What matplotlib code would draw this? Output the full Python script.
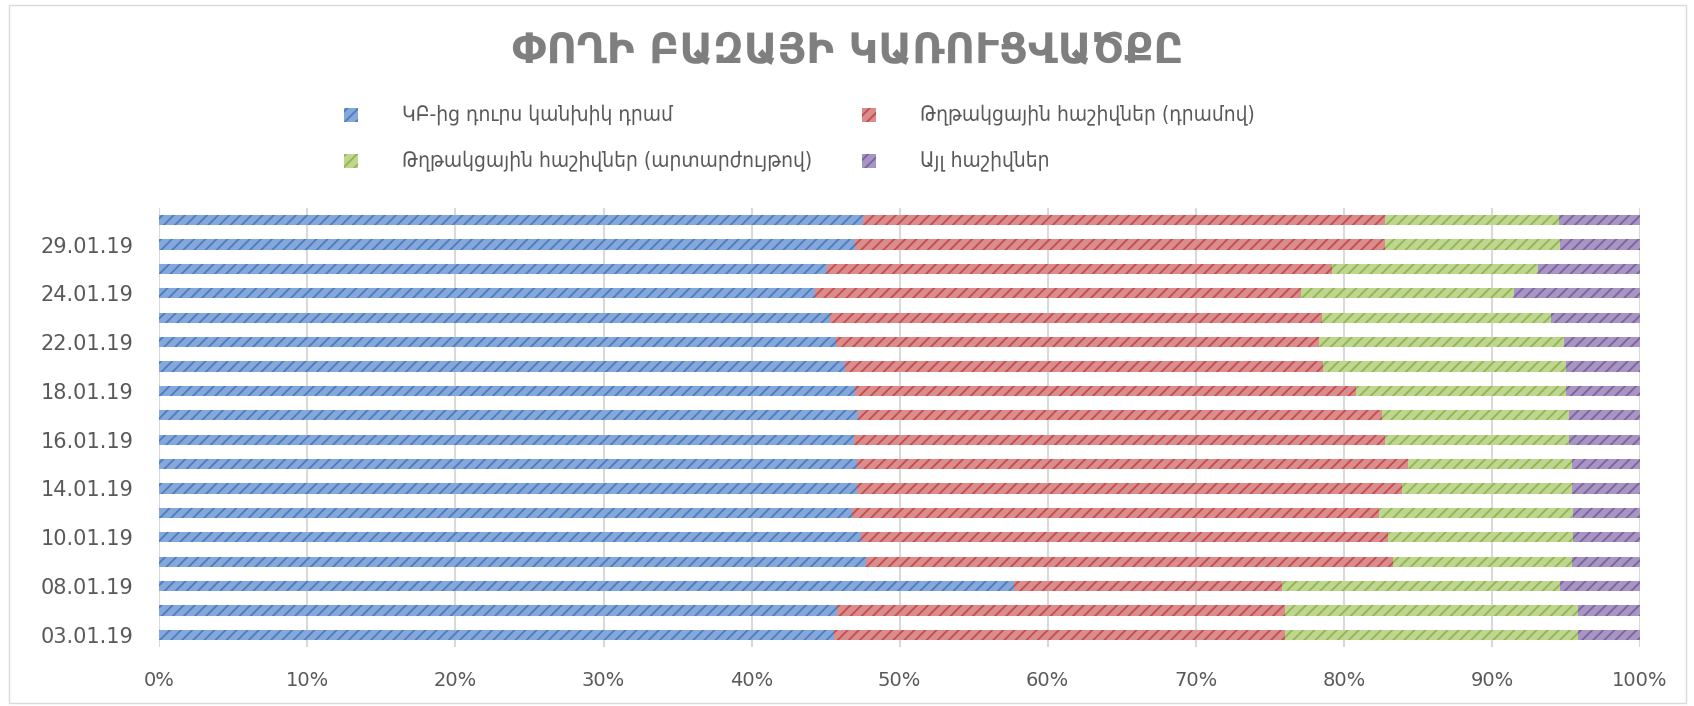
import numpy as np
import matplotlib.pyplot as plt
from matplotlib.patches import Rectangle

# categories, bottom to top
dates = ["03.01.19", "04.01.19", "08.01.19", "09.01.19", "10.01.19", "11.01.19",
         "14.01.19", "15.01.19", "16.01.19", "17.01.19", "18.01.19", "21.01.19",
         "22.01.19", "23.01.19", "24.01.19", "25.01.19", "29.01.19", "30.01.19"]

# shares, %
cash_outside = [45.6, 45.8, 57.7, 47.7, 47.4, 46.8, 47.1, 47.1, 46.9,
                47.2, 47.0, 46.3, 45.7, 45.3, 44.3, 45.1, 47.0, 47.5]
corr_amd = [30.4, 30.2, 18.1, 35.6, 35.6, 35.6, 36.8, 37.2, 35.9,
            35.4, 33.8, 32.3, 32.6, 33.2, 32.8, 34.1, 35.8, 35.3]
corr_fx = [19.8, 19.8, 18.8, 12.1, 12.5, 13.1, 11.5, 11.1, 12.4,
           12.6, 14.2, 16.4, 16.6, 15.5, 14.4, 13.9, 11.8, 11.7]
other = [4.2, 4.2, 5.4, 4.6, 4.5, 4.5, 4.6, 4.6, 4.8,
         4.8, 5.0, 5.0, 5.1, 6.0, 8.5, 6.9, 5.4, 5.5]

series_names = ["ԿԲ-ից դուրս կանխիկ դրամ",
                "Թղթակցային հաշիվներ (դրամով)",
                "Թղթակցային հաշիվներ (արտարժույթով)",
                "Այլ հաշիվներ"]
face_colors = ["#86a8d8", "#d98d8d", "#bed690", "#a795c2"]
hatch_colors = ["#4a7cc4", "#c84a4d", "#90b650", "#7c62a2"]

title = "ՓՈՂԻ ԲԱԶԱՅԻ ԿԱՌՈՒՑՎԱԾՔԸ"

W, H = 1694, 706
plt.rcParams['font.family'] = ['DejaVu Sans']
plt.rcParams['hatch.linewidth'] = 1.3

fig = plt.figure(figsize=(W / 100, H / 100), dpi=100)
ax = fig.add_axes([159.3 / W, 1 - 647 / H, (1640 - 159.3) / W, (647 - 208) / H])

data = np.array([cash_outside, corr_amd, corr_fx, other], dtype=float)
data = data / data.sum(axis=0) * 100  # 100% stacked
y = np.arange(len(dates))

left = np.zeros(len(dates))
for vals, fc, hc, name in zip(data, face_colors, hatch_colors, series_names):
    ax.barh(y, vals, left=left, height=0.42, color=fc, edgecolor=hc,
            hatch='///', linewidth=0, label=name, zorder=2)
    left += vals

ax.set_xlim(0, 100)
ax.set_ylim(-0.5, len(dates) - 0.5)
ax.set_xticks(np.arange(0, 101, 10))
ax.set_xticklabels([f"{v}%" for v in range(0, 101, 10)])
ax.set_yticks(y[::2])
ax.set_yticklabels(dates[::2])
ax.xaxis.grid(True, color='#d9d9d9', linewidth=1.5, zorder=0)
ax.set_axisbelow(True)
for s in ax.spines.values():
    s.set_visible(False)
ax.tick_params(axis='both', length=0, labelsize=14, labelcolor='#595959')
ax.tick_params(axis='y', pad=18.5, labelsize=15)
ax.tick_params(axis='x', pad=17)

# title
fig.text(848 / W, 1 - 51 / H, title, ha='center', va='center',
         fontsize=30, fontweight='bold', color='#7f7f7f')

# legend, laid out like the original (two rows, two columns)
legend_pos = [(351, 115), (869, 115), (351, 161), (869, 161)]
for (cx, cy), fc, hc, name in zip(legend_pos, face_colors, hatch_colors, series_names):
    fig.add_artist(Rectangle(((cx - 7) / W, 1 - (cy + 7) / H), 14 / W, 14 / H,
                             transform=fig.transFigure, facecolor=fc,
                             edgecolor=hc, hatch='///', linewidth=0))
    fig.text((cx + 51) / W, 1 - cy / H, name, ha='left', va='center',
             fontsize=15, fontstretch='condensed', color='#595959')

# chart border
fig.add_artist(Rectangle((9 / W, 3 / H), (1686 - 9) / W, (701 - 3) / H,
                         transform=fig.transFigure, fill=False,
                         edgecolor='#d9d9d9', linewidth=1))

fig.savefig('out.png', dpi=100)
